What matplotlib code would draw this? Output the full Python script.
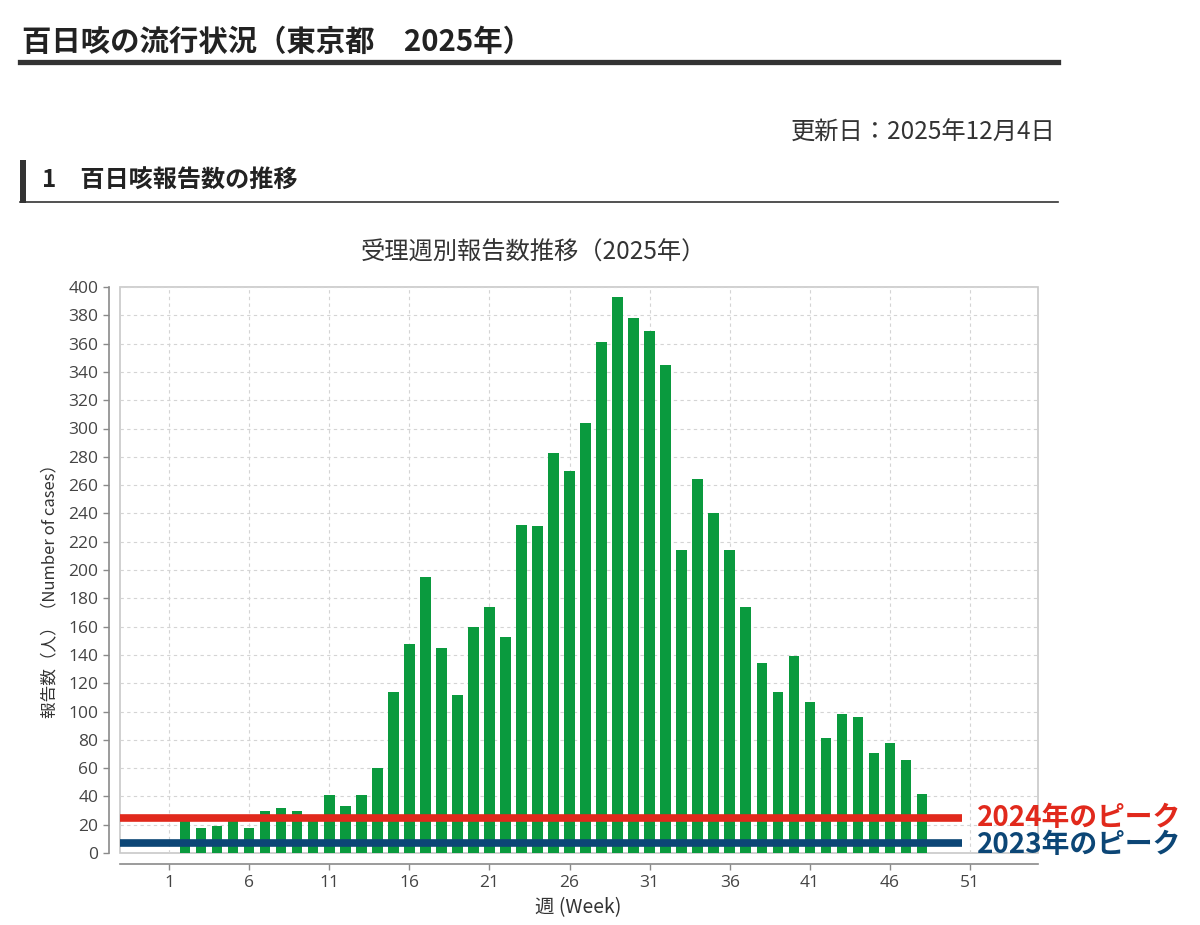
import matplotlib.pyplot as plt
from matplotlib.patches import Rectangle
from matplotlib.lines import Line2D

plt.rcParams['font.family'] = ['Noto Sans CJK JP', 'DejaVu Sans']

# weekly reports, Tokyo 2025 (weeks 1-48)
weeks = list(range(1, 49))
cases = [0, 24, 18, 19, 23, 18, 30, 32, 30, 24,
         41, 33, 41, 60, 114, 148, 195, 145, 112, 160,
         174, 153, 232, 231, 283, 270, 304, 361, 393, 378,
         369, 345, 214, 264, 240, 214, 174, 134, 114, 139,
         107, 81, 98, 96, 71, 78, 66, 42]

peak_2024 = 25
peak_2023 = 7
peak_labels = ["2024年のピーク", "2023年のピーク"]

xticks = [1, 6, 11, 16, 21, 26, 31, 36, 41, 46, 51]
yticks = list(range(0, 401, 20))

BAR = "#0a9a3e"
RED = "#e1291c"
NAVY = "#0c4676"
W, H = 1200, 925


def fx(px):
    return px / W


def fy(py):
    return 1 - py / H


fig = plt.figure(figsize=(12, 9.25), dpi=100)

# page header
fig.text(fx(22), fy(42), "百日咳の流行状況（東京都　2025年）", fontsize=21.2,
         fontweight="bold", color="#222222", va="center", ha="left")
fig.add_artist(Line2D([fx(20), fx(1058)], [fy(62), fy(62)], color="#333333", lw=3.8))
fig.text(fx(1056), fy(133), "更新日：2025年12月4日", fontsize=17.5,
         color="#333333", va="center", ha="right")
fig.add_artist(Rectangle((fx(20), fy(203)), fx(6), 43 / H, color="#333333", lw=0))
fig.text(fx(42), fy(181), "1　百日咳報告数の推移", fontsize=17.4,
         fontweight="bold", color="#222222", va="center", ha="left")
fig.add_artist(Line2D([fx(20), fx(1058)], [fy(202), fy(202)], color="#333333", lw=1.2))

# chart
ax = fig.add_axes([fx(120), fy(853), fx(1038 - 120), (853 - 287) / H])
ax.bar(weeks, cases, width=0.66, color=BAR, zorder=2)

ax.set_xlim(-2.06, 55.24)
ax.set_ylim(0, 400)
ax.set_xticks(xticks)
ax.set_yticks(yticks)
ax.grid(True, color="#d4d4d4", linestyle=(0, (3, 3)), linewidth=0.8, zorder=0)

for s in ["top", "right"]:
    ax.spines[s].set_visible(False)
for s in ["left", "bottom"]:
    ax.spines[s].set_position(("outward", 8))
    ax.spines[s].set_color("#8a8a8a")
    ax.spines[s].set_linewidth(1.2)
ax.add_patch(Rectangle((0, 0), 1, 1, transform=ax.transAxes, fill=False,
                       edgecolor="#c8c8c8", lw=1.2, zorder=1, clip_on=False))
ax.tick_params(axis="both", colors="#8a8a8a", labelcolor="#444444",
               labelsize=12.5, length=4, width=1)
for lab in ax.get_xticklabels() + ax.get_yticklabels():
    lab.set_fontfamily(["Open Sans", "DejaVu Sans"])

# previous-year peak lines
ax.hlines(peak_2024, -2.06, 50.5, color=RED, lw=5.5, zorder=3, clip_on=False)
ax.hlines(peak_2023, -2.06, 50.5, color=NAVY, lw=5.5, zorder=3, clip_on=False)
ax.text(51.45, peak_2024, peak_labels[0], color=RED, fontsize=20,
        fontweight="bold", va="center", ha="left", clip_on=False)
ax.text(51.45, peak_2023 - 1, peak_labels[1], color=NAVY, fontsize=20,
        fontweight="bold", va="center", ha="left", clip_on=False)

fig.text(fx(533), fy(253), "受理週別報告数推移（2025年）", fontsize=17.5,
         color="#333333", va="center", ha="center")
fig.text(fx(50), fy(587), "報告数（人）（Number of cases）", fontsize=12,
         color="#333333", va="center", ha="center", rotation=90)
fig.text(fx(578), fy(908), "週 (Week)", fontsize=14,
         color="#333333", va="center", ha="center")

fig.savefig("out.png", dpi=100)
